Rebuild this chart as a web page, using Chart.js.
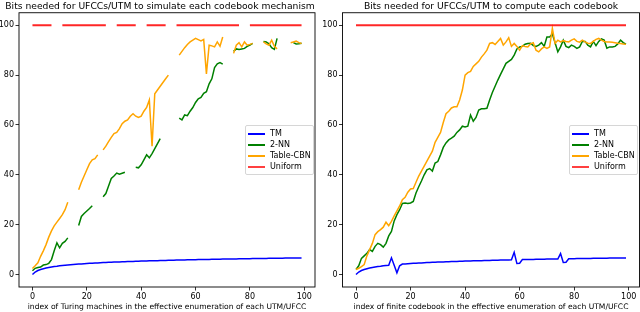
<!DOCTYPE html>
<html lang="en">
<head>
<meta charset="utf-8" />
<title>Bits needed for UFCCs/UTM</title>
<style>
  body { margin: 0; width: 640px; height: 312px; overflow: hidden; background: #fff; position: relative; font-family: "DejaVu Sans", sans-serif; }
  .panel { position: absolute; top: 0; }
  .legend {
    position: absolute; border: 1px solid #d6d6d6; border-radius: 2px;
    background: rgba(255,255,255,0.85); padding: 2px 2px 2px 2px; font-size: 8px; color: #000;
  }
  .legend .item { display: flex; align-items: center; height: 11px; white-space: nowrap; }
  .legend .swatch { display: inline-block; width: 17px; height: 2px; margin-right: 5px; }
</style>
<script src="https://cdn.jsdelivr.net/npm/chart.js"></script>
</head>
<body>
  <canvas id="simChart" class="panel" width="320" height="312" style="left:0"></canvas>
  <canvas id="compChart" class="panel" width="342" height="312" style="left:320px"></canvas>
  <div id="simLegend" class="legend" style="left:245px; top:125px;"></div>
  <div id="compLegend" class="legend" style="left:569px; top:125px;"></div>

<script>
const FONT = "DejaVu Sans";
const seriesNames = ['TM', '2-NN', 'Table-CBN', 'Uniform'];
const seriesColors = ['#0000ff', '#008000', '#ffa500', 'rgba(255,0,0,0.85)'];
const legendColors = ['#0000ff', '#008000', '#ffa500', '#ff4040'];
const seriesWidths = [1.5, 1.5, 1.5, 2];
const xTicks = [0, 20, 40, 60, 80, 100];
const yTicks = [0, 20, 40, 60, 80, 100];

// left panel: simulate each codebook mechanism (null = gap)
const simTM = [
  0, 1, 1.6, 2, 2.3, 2.6, 2.8, 3, 3.2, 3.3,
  3.5, 3.6, 3.7, 3.8, 3.9, 4, 4.1, 4.2, 4.2, 4.3,
  4.4, 4.5, 4.5, 4.6, 4.6, 4.7, 4.8, 4.8, 4.9, 4.9,
  5, 5, 5, 5.1, 5.1, 5.2, 5.2, 5.2, 5.3, 5.3,
  5.4, 5.4, 5.4, 5.5, 5.5, 5.5, 5.5, 5.6, 5.6, 5.6,
  5.7, 5.7, 5.7, 5.8, 5.8, 5.8, 5.8, 5.9, 5.9, 5.9,
  5.9, 6, 6, 6, 6, 6, 6.1, 6.1, 6.1, 6.1,
  6.2, 6.2, 6.2, 6.2, 6.2, 6.2, 6.3, 6.3, 6.3, 6.3,
  6.3, 6.4, 6.4, 6.4, 6.4, 6.4, 6.4, 6.5, 6.5, 6.5,
  6.5, 6.5, 6.5, 6.6, 6.6, 6.6, 6.6, 6.6, 6.6, 6.6
];
const sim2NN = [
  1.5, 2.5, 2.8, 3, 3.8, 4, 4.5, 6, 9.5, 12.7,
  10.7, 12.5, 13.3, 14.7, null, null, null, 19.7, 23.3, 24.5,
  25.5, 26.5, 27.6, null, null, null, 31.2, 32.5, 35.5, 38.5,
  39.5, 40.7, 40.2, 40.6, 41, null, null, null, 43, 42.8,
  44, 46, 48, 46.8, 48.5, 50.5, 52.5, 54.5, null, null,
  null, null, null, null, 62.7, 62, 64, 63.7, 65.5, 67,
  69, 70.5, 71, 72.7, 73.3, 76.5, 78.5, 83, 84.5, 85,
  84.4, null, null, null, 89.5, 90.5, 90.3, 90.5, 90.7, 91.5,
  92, 92.7, null, null, null, 93.5, 93.3, 92.5, 91, 90.3,
  94.7, null, null, null, null, null, 93, 92.5, 92.6, 92.8
];
const simTable = [
  2.4, 3.5, 4.7, 7.3, 9.5, 12, 15, 17.5, 19.5, 21,
  22.5, 24, 26, 29, null, null, null, 34, 37, 39.5,
  42, 44.5, 46, 46.5, 48, null, 50, 51.5, 53.3, 55,
  56.5, 57, 58.5, 60.5, 61.5, 62, 63.5, 64.5, 63.5, 63,
  63.5, 65.5, 67, 70, 51.5, 72.5, 74, 75.5, 77, 78.5,
  80, null, null, null, 88, 89.5, 91, 92.3, 93.3, 94,
  94.7, 94.2, 93.7, 94.3, 80.5, 92, 91.7, 91.3, 93.3, 91.6,
  95.3, null, null, null, 88.7, 92, 93, 91.3, 93.3, 92,
  92.3, 92.7, null, null, null, 93.3, 92.5, 92, 94, 91.5,
  90.5, null, null, null, null, 93, 93.3, 93.6, 93, 92.7
];
const simUniform = [
  100, 100, 100, 100, 100, 100, 100, 100, null, null,
  null, 100, 100, 100, 100, 100, 100, 100, 100, 100,
  100, 100, 100, 100, 100, 100, 100, 100, null, null,
  null, 100, 100, 100, 100, 100, 100, 100, 100, null,
  null, null, 100, 100, 100, 100, 100, 100, 100, 100,
  null, null, null, 100, 100, 100, 100, 100, 100, 100,
  100, 100, 100, 100, 100, 100, 100, 100, 100, 100,
  100, 100, 100, 100, 100, 100, 100, null, null, null,
  100, 100, 100, 100, 100, 100, 100, 100, 100, 100,
  100, 100, 100, 100, 100, 100, 100, 100, 100, 100
];

// right panel: compute each codebook
const compTM = [
  0, 1, 1.6, 2, 2.3, 2.6, 2.8, 3, 3.2, 3.3,
  3.5, 3.6, 3.7, 6.7, 3.7, 0.7, 3.5, 4.2, 4.2, 4.3,
  4.4, 4.5, 4.5, 4.6, 4.6, 4.7, 4.8, 4.8, 4.9, 4.9,
  5, 5, 5, 5.1, 5.1, 5.2, 5.2, 5.2, 5.3, 5.3,
  5.4, 5.4, 5.4, 5.5, 5.5, 5.5, 5.5, 5.6, 5.6, 5.6,
  5.7, 5.7, 5.7, 5.8, 5.8, 5.8, 5.8, 5.9, 8.9, 4.4,
  4.5, 6, 6, 6, 6, 6, 6.1, 6.1, 6.1, 6.1,
  6.2, 6.2, 6.2, 6.2, 6.2, 8.4, 4.8, 4.9, 6.3, 6.3,
  6.3, 6.4, 6.4, 6.4, 6.4, 6.4, 6.4, 6.5, 6.5, 6.5,
  6.5, 6.5, 6.5, 6.6, 6.6, 6.6, 6.6, 6.6, 6.6, 6.6
];
const comp2NN = [
  2, 3.5, 6.5, 7.5, 8.5, 10, 9.3, 11.3, 12.5, 12,
  11, 12.5, 15.5, 17.3, 21.5, 24, 26, 28.5, 28.7, 28.5,
  28.7, 29.3, 32.7, 35.2, 37.5, 40, 42, 42.5, 41.5, 44.7,
  45.3, 48, 51, 52.8, 54, 54.7, 55.5, 57, 58, 59.5,
  59.2, 59.5, 64, 61.5, 63, 66, 66.5, 66.5, 66.7, 70,
  73, 75.5, 78, 80.3, 82.5, 84.7, 85.5, 86.3, 88, 90.5,
  91.3, 91.5, 92.4, 92.7, 92.8, 91.8, 91.5, 92, 93, 91.5,
  95.3, 95.3, 96.5, 93, 89.3, 91.3, 94, 91.5, 91, 92,
  91.5, 90.7, 91.3, 93.5, 93.5, 92, 91.3, 93.5, 91.8, 93.5,
  94.5, 94, 90.8, 91.3, 91.3, 91.5, 92.5, 94, 93, 92.4
];
const compTable = [
  2, 2.5, 3.2, 4, 7.5, 10, 12.5, 16, 17.2, 18,
  19, 21, 19.6, 21.3, 23.5, 25.5, 27.5, 30, 31, 33,
  34.3, 34.5, 37, 39.5, 41.5, 43.5, 45.5, 47.5, 49.5, 53,
  55, 57, 61, 64.5, 65.5, 66.8, 67.3, 67.3, 70, 74,
  80, 81, 81.5, 83.5, 84.5, 85.5, 87.2, 88.5, 90, 92.7,
  93, 92.3, 93.5, 94.7, 92, 93.3, 95, 91.5, 92.7, 91.5,
  90, 91.8, 91.5, 91.3, 92.5, 93, 90, 89.3, 90.5, 91.3,
  90.7, 91.3, 98.7, 92.7, 94, 93.3, 93.8, 93.5, 93.3, 94,
  94.5, 93.5, 93.2, 94, 93.3, 92.8, 92.7, 93.5, 94.3, 94.7,
  94, 93.5, 93.3, 93.3, 93.2, 93, 92.8, 92.7, 92.5, 92.4
];
const compUniform = [
  100, 100, 100, 100, 100, 100, 100, 100, 100, 100,
  100, 100, 100, 100, 100, 100, 100, 100, 100, 100,
  100, 100, 100, 100, 100, 100, 100, 100, 100, 100,
  100, 100, 100, 100, 100, 100, 100, 100, 100, 100,
  100, 100, 100, 100, 100, 100, 100, 100, 100, 100,
  100, 100, 100, 100, 100, 100, 100, 100, 100, 100,
  100, 100, 100, 100, 100, 100, 100, 100, 100, 100,
  100, 100, 100, 100, 100, 100, 100, 100, 100, 100,
  100, 100, 100, 100, 100, 100, 100, 100, 100, 100,
  100, 100, 100, 100, 100, 100, 100, 100, 100, 100
];

// box round the plot area, like matplotlib spines
const framePlugin = {
  id: 'frame',
  afterDatasetsDraw(chart) {
    const a = chart.chartArea, c = chart.ctx;
    c.save();
    c.strokeStyle = '#000';
    c.lineWidth = 0.9;
    c.strokeRect(a.left, a.top, a.right - a.left, a.bottom - a.top);
    c.restore();
  }
};

function makeChart(id, title, xTitle, series, leftW, rightW) {
  const tickGrid = { drawOnChartArea: false, drawTicks: true, tickLength: 3.5, color: '#000', lineWidth: 0.8 };
  return new Chart(document.getElementById(id), {
    type: 'line',
    data: {
      datasets: series.map((vals, k) => ({
        label: seriesNames[k],
        data: vals.map((v, i) => ({ x: i, y: v })),
        borderColor: seriesColors[k],
        backgroundColor: seriesColors[k],
        borderWidth: seriesWidths[k],
        pointRadius: 0,
        tension: 0,
        spanGaps: false,
        order: 3 - k
      }))
    },
    options: {
      animation: false,
      responsive: false,
      layout: { padding: 0 },
      plugins: {
        legend: { display: false },
        tooltip: { enabled: false },
        title: {
          display: true, text: title, color: '#000',
          font: { family: FONT, size: 9.2, weight: 'normal' },
          padding: { top: 1.2, bottom: 0.5 }
        }
      },
      scales: {
        x: {
          type: 'linear', min: -4.95, max: 103.95,
          afterBuildTicks: s => { s.ticks = xTicks.map(v => ({ value: v })); },
          afterFit: s => { s.height = 25; },
          grid: tickGrid,
          border: { display: false },
          ticks: { color: '#000', font: { family: FONT, size: 8 }, padding: 1.5, maxRotation: 0, autoSkip: false },
          title: { display: true, text: xTitle, color: '#000', font: { family: FONT, size: 7.6 }, padding: { top: 0, bottom: 0.5 } }
        },
        y: {
          type: 'linear', min: -5, max: 105,
          afterBuildTicks: s => { s.ticks = yTicks.map(v => ({ value: v })); },
          afterFit: s => { s.width = leftW; },
          grid: tickGrid,
          border: { display: false },
          ticks: { color: '#000', font: { family: FONT, size: 8 }, padding: 1.5, autoSkip: false }
        },
        pad: {
          type: 'linear', position: 'right', display: true,
          afterFit: s => { s.width = rightW; },
          grid: { display: false }, border: { display: false }, ticks: { display: false }
        }
      }
    },
    plugins: [framePlugin]
  });
}

function buildLegend(boxId, chart) {
  const box = document.getElementById(boxId);
  chart.data.datasets.forEach((ds, k) => {
    const row = document.createElement('div');
    row.className = 'item';
    const sw = document.createElement('span');
    sw.className = 'swatch';
    sw.style.backgroundColor = legendColors[k];
    row.appendChild(sw);
    row.appendChild(document.createTextNode(ds.label));
    box.appendChild(row);
  });
}

const simChart = makeChart('simChart',
  'Bits needed for UFCCs/UTM to simulate each codebook mechanism',
  'index of Turing machines in the effective enumeration of each UTM/UFCC',
  [simTM, sim2NN, simTable, simUniform], 19, 5);
const compChart = makeChart('compChart',
  'Bits needed for UFCCs/UTM to compute each codebook',
  'index of finite codebook in the effective enumeration of each UTM/UFCC',
  [compTM, comp2NN, compTable, compUniform], 22.5, 22.5);

buildLegend('simLegend', simChart);
buildLegend('compLegend', compChart);
</script>
</body>
</html>
